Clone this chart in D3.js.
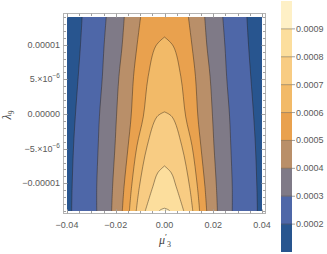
<html>
<head>
    <meta charset="UTF-8">
    <script src="https://d3js.org/d3.v7.min.js"></script>
    <title>Contour mu3 lambda9</title>
    <style>
        body { margin: 0; background: white; }
        text { font-family: "Liberation Sans", Arial, sans-serif; }
    </style>
</head>
<body>
    <svg id="chart" width="327" height="254"></svg>

    <script>
        // contour levels and the band colours (lowest band first)
        const levels = [0.0002, 0.0003, 0.0004, 0.0005, 0.0006, 0.0007, 0.0008, 0.0009];
        const bandColors = ['#28558f', '#4e67a8', '#7f7a87', '#b98f69', '#e9a14e',
            '#f2ba68', '#f8cc83', '#fcde9d', '#fef0c6'];

        // each contour: [lambda9, half width in mu3'] (contour is symmetric round mu3' = 0)
        const c02 = [[-1.4e-5, 0.0381], [-1.05e-5, 0.0379], [-0.46e-5, 0.0373], [-0.04e-5, 0.0366], [0.54e-5, 0.0354], [0.98e-5, 0.0345], [1.4e-5, 0.0338]];
        const c03 = [[-1.4e-5, 0.0278], [-1.05e-5, 0.0278], [-0.46e-5, 0.0272], [-0.04e-5, 0.0267], [0.54e-5, 0.0255], [0.98e-5, 0.0248], [1.4e-5, 0.0239]];
        const c04 = [[-1.4e-5, 0.0217], [-1.05e-5, 0.0213], [-0.46e-5, 0.0203], [-0.04e-5, 0.0197], [0.54e-5, 0.0187], [0.98e-5, 0.0174], [1.4e-5, 0.0165]];
        const c05 = [[-1.4e-5, 0.0173], [-1.05e-5, 0.0166], [-0.46e-5, 0.0149], [-0.04e-5, 0.0137], [0.54e-5, 0.0127], [0.98e-5, 0.0113], [1.4e-5, 0.0098]];
        const c06 = [[-1.4e-5, 0.0144], [-1.05e-5, 0.0135], [-0.46e-5, 0.0113], [-0.04e-5, 0.0087], [0.54e-5, 0.0067], [0.98e-5, 0.0036], [1.11e-5, 0]];
        const c07 = [[-1.4e-5, 0.0116], [-1.05e-5, 0.0103], [-0.46e-5, 0.0071], [-0.04e-5, 0.0031], [0.03e-5, 0]];
        const c08 = [[-1.4e-5, 0.0079], [-1.05e-5, 0.0048], [-0.85e-5, 0.0028], [-0.75e-5, 0]];
        const c09 = [[-1.4e-5, 0.0022], [-1.38e-5, 0.0015], [-1.36e-5, 0]];
        const contours = [c02, c03, c04, c05, c06, c07, c08, c09];

        // ticks
        const xTicks = [-0.04, -0.02, 0, 0.02, 0.04];
        const yTicks = [1e-5, 5e-6, 0, -5e-6, -1e-5];
        const yTickLabels = [['0.00001', ''], ['5.\u00d710', '\u22126'], ['0.00000', ''], ['\u22125.\u00d710', '\u22126'], ['\u22120.00001', '']];
        const barTicks = [0.0002, 0.0003, 0.0004, 0.0005, 0.0006, 0.0007, 0.0008, 0.0009];

        const svg = d3.select('#chart');

        const x = d3.scaleLinear().domain([-0.04, 0.04]).range([67, 262]);
        const y = d3.scaleLinear().domain([-1.4e-5, 1.4e-5]).range([211, 17]);

        svg.append('clipPath').attr('id', 'plotclip')
            .append('rect')
            .attr('x', x(-0.04)).attr('y', y(1.4e-5))
            .attr('width', x(0.04) - x(-0.04)).attr('height', y(-1.4e-5) - y(1.4e-5));

        const plot = svg.append('g').attr('clip-path', 'url(#plotclip)');

        // lowest band fills everything
        plot.append('rect')
            .attr('x', x(-0.04)).attr('y', y(1.4e-5))
            .attr('width', x(0.04) - x(-0.04)).attr('height', y(-1.4e-5) - y(1.4e-5))
            .style('fill', bandColors[0]);

        const area = d3.area()
            .y(d => y(d[0]))
            .x0(d => x(-d[1]))
            .x1(d => x(d[1]))
            .curve(d3.curveCatmullRom);

        // every level: region above that level, stacked
        plot.selectAll('path.band')
            .data(contours)
            .join('path')
            .attr('class', 'band')
            .attr('d', d => area(d))
            .style('fill', (d, i) => bandColors[i + 1]);

        // contour lines (left and right sides)
        plot.selectAll('path.left')
            .data(contours)
            .join('path')
            .attr('class', 'left')
            .attr('d', d => area.lineX0()(d))
            .style('fill', 'none')
            .style('stroke', 'rgba(40,30,20,0.55)')
            .style('stroke-width', 0.8);
        plot.selectAll('path.right')
            .data(contours)
            .join('path')
            .attr('class', 'right')
            .attr('d', d => area.lineX1()(d))
            .style('fill', 'none')
            .style('stroke', 'rgba(40,30,20,0.55)')
            .style('stroke-width', 0.8);

        // frame
        const fx0 = 63.5, fx1 = 265.5, fy0 = 13.5, fy1 = 213.5;
        svg.append('rect')
            .attr('x', fx0).attr('y', fy0)
            .attr('width', fx1 - fx0).attr('height', fy1 - fy0)
            .style('fill', 'none')
            .style('stroke', '#b4b4b4')
            .style('stroke-width', 1);

        // ticks on all four sides, pointing inward
        const xMinor = d3.range(-0.04, 0.0401, 0.005).filter(v => !xTicks.some(t => Math.abs(t - v) < 1e-9));
        const yMinor = d3.range(-1.4e-5, 1.401e-5, 1e-6).filter(v => !yTicks.some(t => Math.abs(t - v) < 1e-12));
        const tickColor = '#a0a0a0';

        function tickLines(vals, len, horizontal) {
            vals.forEach(v => {
                if (horizontal) {
                    const px = Math.round(x(v)) + 0.5;
                    svg.append('line').attr('x1', px).attr('x2', px).attr('y1', fy1).attr('y2', fy1 - len).style('stroke', tickColor);
                    svg.append('line').attr('x1', px).attr('x2', px).attr('y1', fy0).attr('y2', fy0 + len).style('stroke', tickColor);
                } else {
                    const py = Math.round(y(v)) + 0.5;
                    svg.append('line').attr('y1', py).attr('y2', py).attr('x1', fx0).attr('x2', fx0 + len).style('stroke', tickColor);
                    svg.append('line').attr('y1', py).attr('y2', py).attr('x1', fx1).attr('x2', fx1 - len).style('stroke', tickColor);
                }
            });
        }
        tickLines(xTicks, 4, true);
        tickLines(xMinor, 2.5, true);
        tickLines(yTicks, 4, false);
        tickLines(yMinor, 2.5, false);

        const labelColor = '#5a5a5a';
        const fmtX = d3.format('.2f');
        svg.selectAll('text.xt')
            .data(xTicks)
            .join('text')
            .attr('class', 'xt')
            .attr('x', d => x(d))
            .attr('y', 227.5)
            .attr('text-anchor', 'middle')
            .style('font-size', '9px')
            .style('fill', labelColor)
            .text(d => fmtX(d));

        const yt = svg.selectAll('text.yt')
            .data(yTicks)
            .join('text')
            .attr('class', 'yt')
            .attr('x', 60)
            .attr('y', d => y(d) + 3)
            .attr('text-anchor', 'end')
            .style('font-size', '9px')
            .style('fill', labelColor);
        yt.each(function (d, i) {
            const t = d3.select(this);
            const lab = yTickLabels[i];
            t.append('tspan').text(lab[0]);
            if (lab[1]) {
                t.append('tspan').attr('dy', -4).style('font-size', '6.5px').text(lab[1]);
            }
        });

        // axis titles
        const ylab = svg.append('text')
            .attr('transform', 'translate(11,115) rotate(-90)')
            .attr('text-anchor', 'middle')
            .style('font-family', '"Liberation Serif", "Times New Roman", serif')
            .style('font-size', '12px')
            .style('fill', '#444');
        ylab.append('tspan').style('font-style', 'italic').text('\u03bb');
        ylab.append('tspan').attr('dy', 3).style('font-size', '8px').text('9');

        const xlab = svg.append('text')
            .attr('x', 165)
            .attr('y', 244)
            .attr('text-anchor', 'middle')
            .style('font-family', '"Liberation Serif", "Times New Roman", serif')
            .style('font-size', '12px')
            .style('fill', '#444');
        xlab.append('tspan').style('font-style', 'italic').text('\u03bc');
        xlab.append('tspan').attr('dy', -4).style('font-size', '9px').text('\u2032');
        xlab.append('tspan').attr('dy', 7).style('font-size', '8px').text('3');

        // colour bar legend
        const bar = d3.scaleLinear().domain([0.0001, 0.001]).range([252, 1]);
        const bounds = [0.0001].concat(levels, [0.001]);
        svg.selectAll('rect.bar')
            .data(bandColors)
            .join('rect')
            .attr('class', 'bar')
            .attr('x', 281)
            .attr('width', 11)
            .attr('y', (d, i) => bar(bounds[i + 1]))
            .attr('height', (d, i) => bar(bounds[i]) - bar(bounds[i + 1]))
            .style('fill', d => d);
        svg.selectAll('line.barline')
            .data(levels)
            .join('line')
            .attr('class', 'barline')
            .attr('x1', 281).attr('x2', 292)
            .attr('y1', d => bar(d)).attr('y2', d => bar(d))
            .style('stroke', 'rgba(40,30,20,0.45)')
            .style('stroke-width', 0.8);
        svg.selectAll('line.bartick')
            .data(barTicks)
            .join('line')
            .attr('class', 'bartick')
            .attr('x1', 292).attr('x2', 295)
            .attr('y1', d => bar(d)).attr('y2', d => bar(d))
            .style('stroke', tickColor);
        svg.selectAll('text.bt')
            .data(barTicks)
            .join('text')
            .attr('class', 'bt')
            .attr('x', 296)
            .attr('y', d => bar(d) + 3)
            .style('font-size', '9px')
            .style('fill', labelColor)
            .text(d => d3.format('.4f')(d));
    </script>
</body>
</html>
